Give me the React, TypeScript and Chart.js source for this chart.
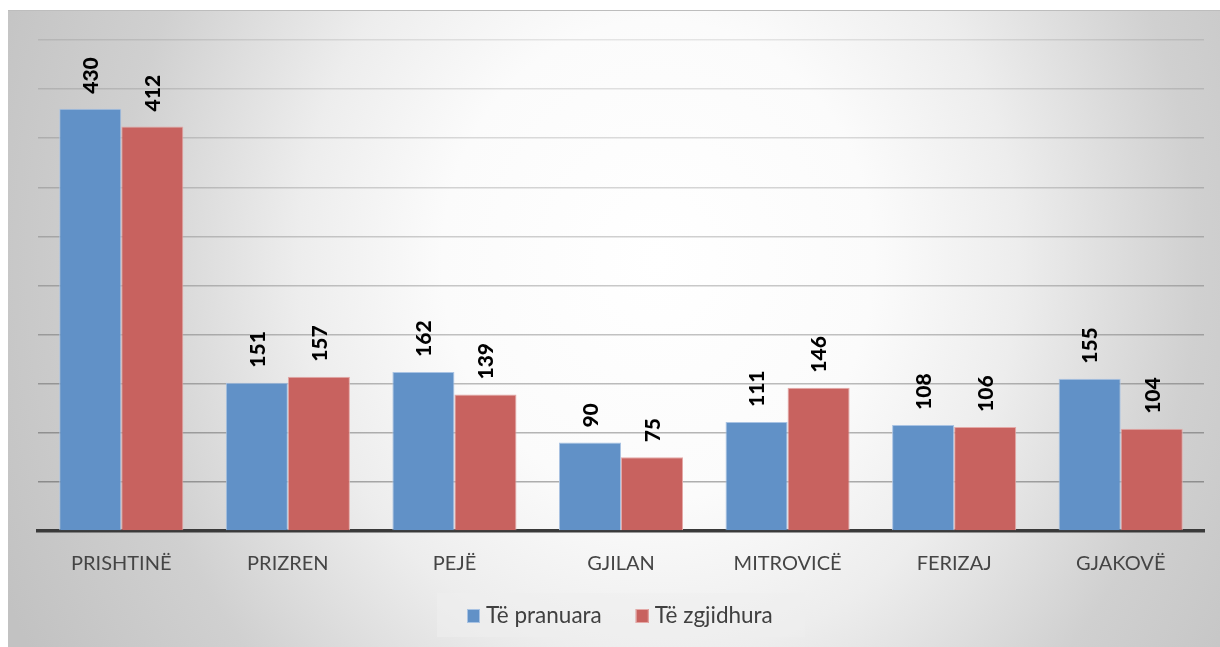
import React, { useEffect, useRef } from "react";
import { Chart, registerables } from "chart.js";

Chart.register(...registerables);

const categories = ["PRISHTINË", "PRIZREN", "PEJË", "GJILAN", "MITROVICË", "FERIZAJ", "GJAKOVË"];
const pranuara = [430, 151, 162, 90, 111, 108, 155];
const zgjidhura = [412, 157, 139, 75, 146, 106, 104];
const seriesLabels = ["Të pranuara", "Të zgjidhura"];

const W = 1212;
const H = 637;

const bgPlugin = {
  id: "bgPlugin",
  beforeDraw(chart: any) {
    const ctx = chart.ctx;
    ctx.save();
    const cx = 650, cy = 250, rx = 720, ry = 800;
    ctx.translate(cx, cy);
    ctx.scale(1, ry / rx);
    const g = ctx.createRadialGradient(0, 0, 0, 0, 0, rx);
    g.addColorStop(0, "#ffffff");
    g.addColorStop(0.3, "#fbfbfb");
    g.addColorStop(0.5, "#ededed");
    g.addColorStop(0.75, "#d0d0d0");
    g.addColorStop(1, "#c2c2c2");
    ctx.fillStyle = g;
    ctx.fillRect(-cx - 10, (-cy - 10) * rx / ry, W + 20, (H + 20) * rx / ry);
    ctx.restore();
    ctx.save();
    ctx.fillStyle = "#bdbdbd";
    ctx.fillRect(0, 0, W, 1);
    ctx.restore();
  },
};

const labelPlugin = {
  id: "labelPlugin",
  afterDraw(chart: any) {
    const ctx = chart.ctx;
    ctx.save();
    ctx.font = "900 21px Lato";
    ctx.fillStyle = "#000000";
    ctx.textAlign = "left";
    ctx.textBaseline = "middle";
    chart.data.datasets.forEach((ds: any, di: number) => {
      const meta = chart.getDatasetMeta(di);
      meta.data.forEach((bar: any, i: number) => {
        ctx.save();
        ctx.translate(bar.x + 1, bar.y - 15);
        ctx.rotate(-Math.PI / 2);
        ctx.fillText(String(ds.data[i]), 0, 0);
        ctx.restore();
      });
    });
    ctx.restore();

    // custom legend
    ctx.save();
    const boxL = 429, boxT = 583, boxW = 368, boxH = 44;
    ctx.fillStyle = "rgba(238,238,238,0.55)";
    ctx.fillRect(boxL, boxT, boxW, boxH);
    ctx.font = "22.5px Lato";
    ctx.textBaseline = "middle";
    ctx.textAlign = "left";
    let x = boxL + 30;
    const yMid = boxT + 23;
    chart.data.datasets.forEach((ds: any) => {
      ctx.fillStyle = ds.backgroundColor;
      ctx.fillRect(x, yMid - 7, 13, 14);
      ctx.strokeStyle = ds.borderColor;
      ctx.lineWidth = 1;
      ctx.strokeRect(x + 0.5, yMid - 6.5, 12, 13);
      ctx.fillStyle = "#404040";
      ctx.fillText(ds.label, x + 19, yMid);
      x += 19 + ctx.measureText(ds.label).width + 34;
    });
    ctx.restore();
  },
};

export default function App() {
  const ref = useRef<HTMLCanvasElement>(null);
  useEffect(() => {
    if (!ref.current) return;
    const chart = new Chart(ref.current, {
      type: "bar",
      data: {
        labels: categories,
        datasets: [
          {
            label: seriesLabels[0],
            data: pranuara,
            backgroundColor: "#6191C7",
            borderColor: "#a9c3e3",
            borderWidth: 1,
          },
          {
            label: seriesLabels[1],
            data: zgjidhura,
            backgroundColor: "#C8625F",
            borderColor: "#e4a9a7",
            borderWidth: 1,
          },
        ],
      },
      options: {
        responsive: false,
        animation: false,
        devicePixelRatio: 1,
        layout: { padding: { left: 30, right: 16, top: 30, bottom: 0 } },
        datasets: { bar: { categoryPercentage: 0.745, barPercentage: 1 } },
        plugins: { legend: { display: false }, tooltip: { enabled: false } },
        scales: {
          x: {
            grid: { display: false, drawTicks: false },
            border: { display: true, color: "#3a3a3a", width: 3.5 },
            ticks: {
              font: { family: "Lato", size: 20 },
              color: "#454545",
              padding: 21,
              maxRotation: 0,
              autoSkip: false,
            },
            afterFit: (s: any) => {
              s.height = 116;
            },
          },
          y: {
            min: 0,
            max: 500,
            z: 1,
            ticks: { display: false, stepSize: 50 },
            border: { display: false },
            grid: {
              drawTicks: false,
              lineWidth: 1.5,
              color: (c: any) => {
                const v = c.tick ? c.tick.value : 0;
                if (v === 0) return "rgba(0,0,0,0)";
                const a = 0.09 + 0.24 * (1 - v / 500);
                return `rgba(0,0,0,${a.toFixed(3)})`;
              },
            },
            afterFit: (s: any) => {
              s.width = 0;
            },
          },
        },
      },
      plugins: [bgPlugin, labelPlugin],
    });
    return () => chart.destroy();
  }, []);
  return (
    <div style={{ position: "fixed", left: 8, top: 10, width: W, height: H }}>
      <canvas ref={ref} width={W} height={H} style={{ width: W, height: H, display: "block" }} />
    </div>
  );
}
